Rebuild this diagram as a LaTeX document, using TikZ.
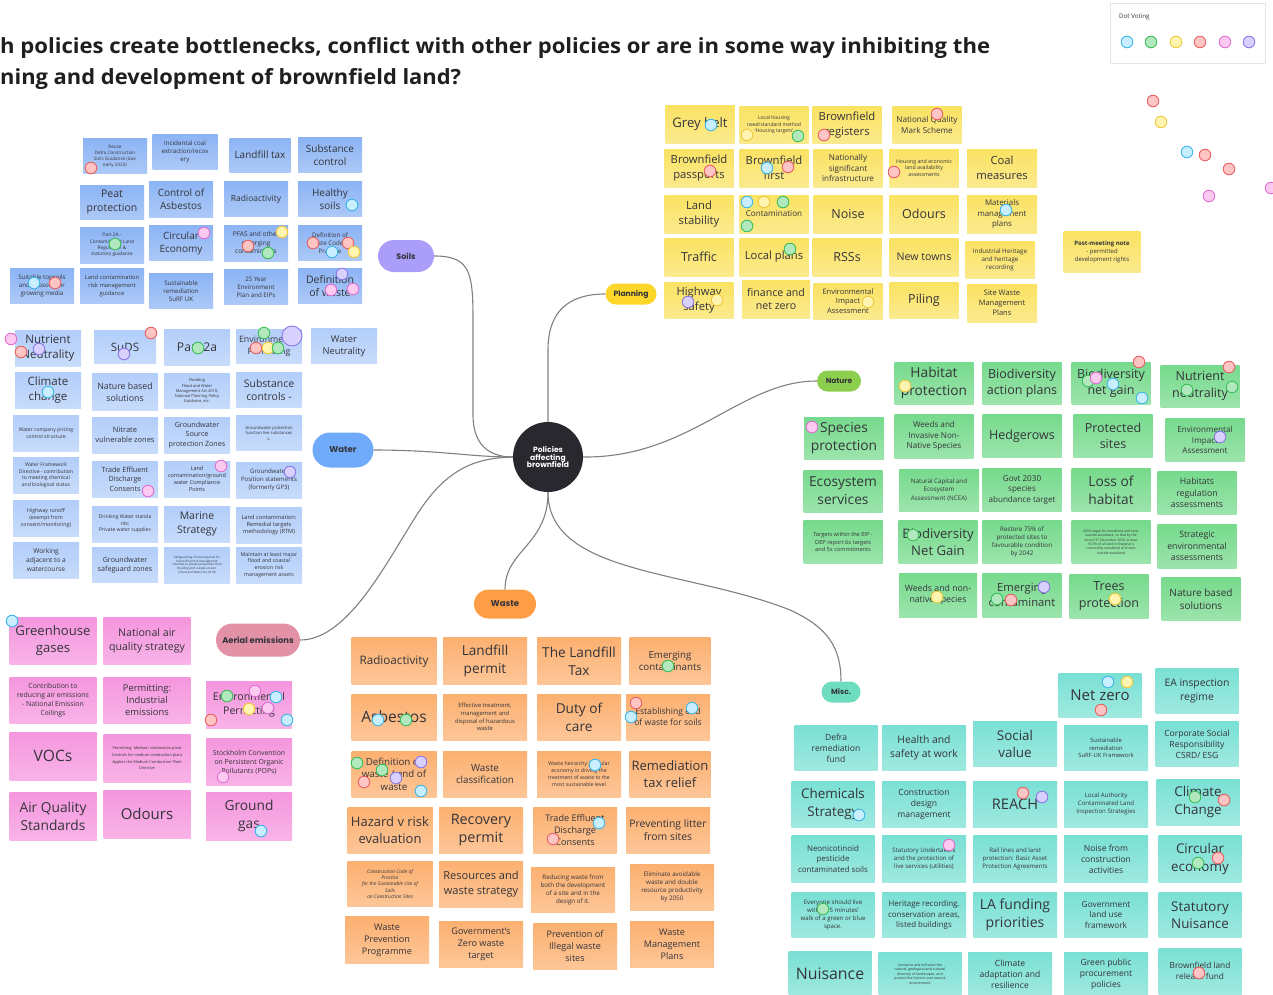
\documentclass[tikz,border=0pt]{standalone}
\usepackage{fontspec}
\usepackage{graphicx}
\setmainfont{Open Sans}
\newfontfamily\popfont{Poppins}
\usetikzlibrary{shadows,shapes.misc}

% sticky-note colours
\definecolor{ink}{RGB}{52,52,58}
\definecolor{sn}{RGB}{140,180,244}
\definecolor{wn}{RGB}{178,206,250}
\definecolor{pn}{RGB}{250,226,98}
\definecolor{gn}{RGB}{118,218,140}
\definecolor{an}{RGB}{245,150,222}
\definecolor{on}{RGB}{252,176,112}
\definecolor{mn}{RGB}{122,224,212}
% topic pill colours
\definecolor{soilc}{RGB}{170,158,250}
\definecolor{planc}{RGB}{252,214,40}
\definecolor{waterc}{RGB}{112,170,250}
\definecolor{wastec}{RGB}{255,157,70}
\definecolor{airc}{RGB}{226,145,166}
\definecolor{natc}{RGB}{140,206,78}
\definecolor{miscc}{RGB}{110,220,190}
\definecolor{hubc}{RGB}{40,40,46}
\definecolor{linkc}{RGB}{128,128,132}
% voting dot colours (d = rim, l = fill)
\definecolor{cd}{RGB}{60,182,232}\definecolor{cl}{RGB}{200,238,255}
\definecolor{gd}{RGB}{58,190,90}\definecolor{gl}{RGB}{178,232,190}
\definecolor{yd}{RGB}{240,200,60}\definecolor{yl}{RGB}{255,244,176}
\definecolor{rd}{RGB}{232,96,96}\definecolor{rl}{RGB}{255,196,196}
\definecolor{pd}{RGB}{222,110,208}\definecolor{pl}{RGB}{252,202,240}
\definecolor{vd}{RGB}{138,120,232}\definecolor{vl}{RGB}{216,208,255}

% font size scaled by the current group factor \fscale
\def\fscale{1}
\newcommand\fs[1]{\pgfmathsetmacro\fsz{#1*\fscale}%
  \fontsize{\fsz}{1.3\dimexpr\fsz pt\relax}\selectfont}

\tikzset{
  note/.style={inner sep=1.5pt, align=center, text=ink,
    drop shadow={shadow xshift=0.4pt, shadow yshift=-0.9pt, opacity=0.16}},
  topic/.style={rounded rectangle, inner sep=0pt, text=ink,
    font=\popfont\bfseries\fs{#1}},
  link/.style={draw=linkc, line width=1.1pt},
  vote/.style={line width=0.9pt, draw=#1d, fill=#1l},
}
% name, x, y, width, height, colour, font size, text
\newcommand\nt[8]{\node[note, minimum width=#4pt, minimum height=#5pt,
  top color=#6, bottom color=#6!72!white, font=\fs{#7}] (#1) at (#2,#3) {#8};}
\newcommand\dt[3]{\draw[vote=#3] (#1,#2) circle[radius=5.8];}

\begin{document}
\begin{tikzpicture}[x=1pt,y=-1pt]
\useasboundingbox (0,0) rectangle (1273,994);
\fill[white] (0,0) rectangle (1273,994);

% heading
\node[anchor=base west, inner sep=0pt, text=black!88, font=\bfseries\fs{20}] (t1) at (0,53)
  {\resizebox{990pt}{16pt}{h policies create bottlenecks, conflict with other policies or are in some way inhibiting the}};
\node[anchor=base west, inner sep=0pt, text=black!88, font=\bfseries\fs{20}] (t2) at (0,84)
  {\resizebox{461pt}{16pt}{ning and development of brownfield land?}};

% voting palette
\node[anchor=north west, draw=black!10, fill=white, minimum width=155pt, minimum height=60pt,
  drop shadow={shadow xshift=0.3pt, shadow yshift=-0.8pt, opacity=0.12}] (dv) at (1110,3) {};
\node[anchor=west, inner sep=0pt, text=ink, font=\fs{6.2}] (dvt) at (1119,17) {Dot Voting};
\dt{1127}{42}{c}\dt{1151}{42}{g}\dt{1176}{42}{y}\dt{1200}{42}{r}\dt{1225}{42}{p}\dt{1249}{42}{v}

% hub and topics
\node[circle, fill=hubc, minimum size=70pt, inner sep=0pt, align=center, text=white,
  font=\popfont\bfseries\fs{7.6}] (hub) at (548,457) {Policies\\[-2pt]affecting\\[-2pt]brownfield};
\node[topic=8, fill=soilc, minimum width=56pt, minimum height=32pt] (soils) at (406,256) {Soils};
\node[topic=7.6, fill=planc, minimum width=51pt, minimum height=21pt] (planning) at (631,294) {Planning};
\node[topic=8.5, fill=waterc, minimum width=61pt, minimum height=35pt] (water) at (343,450) {Water};
\node[topic=8.5, fill=wastec, minimum width=62pt, minimum height=29pt] (waste) at (505,604) {Waste};
\node[topic=8.4, fill=airc, minimum width=84pt, minimum height=33pt] (aerial) at (258,640) {Aerial emissions};
\node[topic=7.4, fill=natc, minimum width=44pt, minimum height=21pt] (nature) at (839,381) {Nature};
\node[topic=7.4, fill=miscc, minimum width=39pt, minimum height=21pt] (misc) at (841,692) {Misc.};

% branches
\draw[link] (soils.east) .. controls (470,256) and (473,272) .. (473,320) -- (473,415)
  .. controls (473,450) and (495,457) .. (hub.west);
\draw[link] (hub.north) -- (548,350) .. controls (548,310) and (570,294) .. (planning.west);
\draw[link] (water.east) .. controls (440,450) and (470,457) .. (hub.west);
\draw[link] (hub.east) .. controls (690,458) and (740,381) .. (nature.west);
\draw[link] (hub.south) .. controls (548,545) and (505,550) .. (waste.north);
\draw[link] (aerial.east) .. controls (350,640) and (390,555) .. (420,510)
  .. controls (450,465) and (480,458) .. (hub.west);
\draw[link] (hub.south) .. controls (548,575) and (690,570) .. (790,610)
  .. controls (830,628) and (841,650) .. (misc.north);

% ---- Soils
\def\fscale{1}
\nt{s1}{115}{156}{64}{35}{sn}{4.6}{Reuse\\Defra Construction\\Soils Guidance (due\\early 2025)}
\nt{s2}{185}{152}{65}{35}{sn}{6.2}{Incidental coal\\extraction/recov\\ery}
\nt{s3}{260}{155}{61}{34}{sn}{10}{Landfill tax}
\nt{s4}{330}{155}{64}{35}{sn}{10}{Substance\\control}
\nt{s5}{112}{202}{64}{34}{sn}{10.5}{Peat\\protection}
\nt{s6}{181}{199}{64}{36}{sn}{10}{Control of\\Asbestos}
\nt{s7}{256}{199}{64}{35}{sn}{8.5}{Radioactivity}
\nt{s8}{330}{199}{64}{35}{sn}{10}{Healthy\\soils}
\nt{s9}{112}{245}{64}{36}{sn}{4.8}{Part 2A -\\Contaminated Land\\Regulation \&\\statutory guidance}
\nt{s10}{181}{243}{64}{35}{sn}{10}{Circular\\Economy}
\nt{s11}{256}{243}{64}{36}{sn}{6.5}{PFAS and other\\emerging\\contaminants}
\nt{s12}{330}{243}{64}{35}{sn}{6.2}{Definition of\\Waste Code of\\Practice}
\nt{s13}{42}{286}{64}{35}{sn}{6.2}{Suitable topsoils\\and subsoils for\\growing media}
\nt{s14}{112}{286}{64}{35}{sn}{5.8}{Land contamination\\risk management\\guidance}
\nt{s15}{181}{291}{64}{35}{sn}{6.2}{Sustainable\\remediation\\SuRF UK}
\nt{s16}{256}{287}{64}{35}{sn}{6.2}{25 Year\\Environment\\Plan and EIPs}
\nt{s17}{330}{286}{64}{35}{sn}{10.5}{Definition\\of waste}
\dt{91}{168}{r}\dt{352}{205}{c}\dt{115}{244}{g}\dt{204}{233}{p}
\dt{282}{232}{y}\dt{248}{246}{r}\dt{268}{253}{g}
\dt{313}{243}{r}\dt{348}{243}{r}\dt{332}{252}{c}\dt{354}{252}{y}
\dt{34}{283}{c}\dt{55}{283}{r}
\dt{342}{274}{v}\dt{331}{290}{p}\dt{353}{289}{p}

% ---- Water
\def\fscale{1.1}
\nt{w1}{48}{348}{66}{36}{wn}{10.5}{Nutrient\\Neutrality}
\nt{w2}{125}{347}{62}{33}{wn}{10.5}{SuDS}
\nt{w3}{197}{347}{66}{36}{wn}{11}{Part 2a}
\nt{w4}{269}{346}{66}{34}{wn}{8}{Environmental\\Permitting}
\nt{w5}{344}{346}{66}{35}{wn}{8.5}{Water\\Neutrality}
\nt{w6}{48}{390}{66}{36}{wn}{10.5}{Climate\\change}
\nt{w7}{125}{392}{66}{37}{wn}{8}{Nature based\\solutions}
\nt{w8}{197}{391}{66}{35}{wn}{3.6}{Flooding\\Flood and Water\\Management Act 2010;\\National Planning Policy\\Guidance, etc.}
\nt{w9}{269}{390}{66}{35}{wn}{9.5}{Substance\\controls -}
\nt{w10}{46}{433}{66}{36}{wn}{4.6}{Water company pricing\\control structure}
\nt{w11}{125}{435}{66}{36}{wn}{6.8}{Nitrate\\vulnerable zones}
\nt{w12}{197}{435}{66}{36}{wn}{6.5}{Groundwater\\Source\\protection Zones}
\nt{w13}{269}{433}{66}{35}{wn}{3.8}{Groundwater protection\\function live substances\\s.}
\nt{w14}{46}{475}{66}{36}{wn}{4.6}{Water Framework\\Directive - contribution\\to meeting chemical\\and biological status}
\nt{w15}{125}{479}{66}{36}{wn}{6.5}{Trade Effluent\\Discharge\\Consents}
\nt{w16}{197}{479}{66}{36}{wn}{5}{Land\\contamination/ground\\water Compliance\\Points}
\nt{w17}{269}{480}{66}{36}{wn}{5.5}{Groundwater\\Position statements\\(formerly GP3)}
\nt{w18}{46}{518}{66}{36}{wn}{4.8}{Highway runoff\\(exempt from\\consent/monitoring)}
\nt{w19}{125}{524}{66}{36}{wn}{4.6}{Drinking Water standa\\rds;\\Private water supplies}
\nt{w20}{197}{524}{66}{36}{wn}{9.5}{Marine\\Strategy}
\nt{w21}{269}{525}{66}{36}{wn}{5.2}{Land contamination:\\Remedial targets\\methodology (RTM)}
\nt{w22}{46}{560}{66}{36}{wn}{6}{Working\\adjacent to a\\watercourse}
\nt{w23}{125}{565}{66}{35}{wn}{6.5}{Groundwater\\safeguard zones}
\nt{w24}{197}{565}{66}{36}{wn}{2.7}{Safeguarding of land required for\\future flood risk management\\schemes to protect properties from\\flooding and coastal erosion\\(Flood and Water Act 2010)}
\nt{w25}{269}{565}{66}{36}{wn}{4.8}{Maintain at least major\\flood and coastal\\erosion risk\\management assets}
\dt{11}{339}{p}\dt{21}{352}{r}\dt{39}{349}{v}
\dt{151}{333}{r}\dt{124}{354}{v}\dt{198}{348}{g}
\dt{264}{333}{g}\dt{256}{348}{r}\dt{268}{348}{y}\dt{278}{348}{g}
\draw[vote=v] (292,336) circle[radius=10];
\dt{48}{392}{c}\dt{148}{491}{p}\dt{221}{466}{p}\dt{290}{472}{v}

% ---- Planning
\def\fscale{1.25}
\nt{p1}{700}{124}{69}{38}{pn}{10.5}{Grey belt}
\nt{p2}{774}{125}{69}{37}{pn}{4}{Local housing\\need/standard method\\‘Housing targets’}
\nt{p3}{847}{125}{69}{37}{pn}{9}{Brownfield\\registers}
\nt{p4}{927}{125}{69}{37}{pn}{6.5}{National Quality\\Mark Scheme}
\nt{p5}{699}{168}{69}{38}{pn}{9}{Brownfield\\passports}
\nt{p6}{774}{168}{69}{38}{pn}{9}{Brownfield\\first}
\nt{p7}{848}{168}{69}{38}{pn}{6.5}{Nationally\\significant\\infrastructure}
\nt{p8}{924}{168}{69}{38}{pn}{4.2}{Housing and economic\\land availability\\assessments}
\nt{p9}{1002}{168}{70}{38}{pn}{9}{Coal\\measures}
\nt{p10}{699}{214}{69}{38}{pn}{9}{Land\\stability}
\nt{p11}{774}{214}{69}{38}{pn}{6.5}{Contamination}
\nt{p12}{848}{214}{69}{38}{pn}{10}{Noise}
\nt{p13}{924}{214}{69}{38}{pn}{10}{Odours}
\nt{p14}{1002}{214}{70}{38}{pn}{6.3}{Materials\\management\\plans}
\nt{p15}{699}{257}{69}{38}{pn}{10}{Traffic}
\nt{p16}{774}{257}{69}{38}{pn}{9}{Local plans}
\nt{p17}{847}{257}{69}{38}{pn}{10}{RSSs}
\nt{p18}{924}{257}{69}{38}{pn}{8.5}{New towns}
\nt{p19}{1000}{260}{69}{37}{pn}{5}{Industrial Heritage\\and heritage\\recording}
\nt{p20}{699}{300}{69}{36}{pn}{9}{Highway\\safety}
\nt{p21}{776}{299}{68}{38}{pn}{8.5}{finance and\\net zero}
\nt{p22}{848}{301}{69}{36}{pn}{6}{Environmental\\Impact\\Assessment}
\nt{p23}{924}{300}{69}{36}{pn}{10}{Piling}
\nt{p24}{1002}{303}{70}{38}{pn}{6}{Site Waste\\Management\\Plans}
\dt{711}{125}{c}\dt{747}{135}{y}\dt{798}{136}{g}\dt{824}{135}{r}\dt{937}{114}{r}
\dt{710}{171}{r}\dt{767}{168}{c}\dt{788}{167}{r}\dt{894}{172}{r}
\dt{747}{202}{c}\dt{764}{202}{y}\dt{783}{202}{g}\dt{747}{226}{g}
\dt{1006}{210}{c}\dt{790}{249}{g}\dt{688}{302}{v}\dt{717}{300}{y}\dt{868}{302}{y}

% post-meeting note and loose dots
\def\fscale{1.2}
\nt{pm}{1102}{252}{77}{41}{pn}{5}{{\bfseries Post-meeting note}\\- permitted\\development rights}
\dt{1153}{101}{r}\dt{1161}{122}{y}\dt{1187}{152}{c}\dt{1205}{155}{r}
\dt{1229}{169}{r}\dt{1209}{196}{p}\dt{1271}{188}{p}

% ---- Nature
\def\fscale{1.25}
\nt{n1}{934}{383}{79}{42}{gn}{11}{Habitat\\protection}
\nt{n2}{1022}{383}{79}{42}{gn}{10}{Biodiversity\\action plans}
\nt{n3}{1111}{383}{79}{42}{gn}{10}{Biodiversity\\net gain}
\nt{n4}{1200}{386}{79}{42}{gn}{10}{Nutrient\\neutrality}
\nt{n5}{844}{438}{80}{42}{gn}{11}{Species\\protection}
\nt{n6}{934}{436}{79}{44}{gn}{6.5}{Weeds and\\Invasive Non-\\Native Species}
\nt{n7}{1022}{436}{79}{43}{gn}{10}{Hedgerows}
\nt{n8}{1113}{436}{79}{43}{gn}{10}{Protected\\sites}
\nt{n9}{1205}{440}{79}{43}{gn}{6.5}{Environmental\\Impact\\Assessment}
\nt{n10}{843}{491}{79}{42}{gn}{11}{Ecosystem\\services}
\nt{n11}{939}{490}{80}{42}{gn}{5}{Natural Capital and\\Ecosystem\\Assessment (NCEA)}
\nt{n12}{1022}{490}{79}{43}{gn}{6.5}{Govt 2030\\species\\abundance target}
\nt{n13}{1111}{490}{79}{43}{gn}{11}{Loss of\\habitat}
\nt{n14}{1197}{493}{79}{43}{gn}{7}{Habitats\\regulation\\assessments}
\nt{n15}{843}{542}{79}{43}{gn}{4.5}{Targets within the EIP -\\OEP report 6x targets\\and 5x commitments}
\nt{n16}{938}{542}{79}{43}{gn}{10.5}{Biodiversity\\Net Gain}
\nt{n17}{1022}{542}{79}{43}{gn}{5}{Restore 75\% of\\protected sites to\\favourable condition\\by 2042}
\nt{n18}{1111}{542}{79}{43}{gn}{2.7}{2050 target for woodland and trees\\outside woodland, so that by the\\end of 31 December 2050 at least\\16.5\% of all land in England is\\covered by woodland and trees\\outside woodland}
\nt{n19}{1197}{546}{79}{44}{gn}{7}{Strategic\\environmental\\assessments}
\nt{n20}{938}{595}{78}{44}{gn}{7}{Weeds and non-\\native species}
\nt{n21}{1022}{595}{79}{44}{gn}{9}{Emerging\\contaminant}
\nt{n22}{1109}{596}{79}{44}{gn}{10}{Trees\\protection}
\nt{n23}{1201}{599}{79}{43}{gn}{8}{Nature based\\solutions}
\dt{905}{386}{y}\dt{1139}{362}{r}\dt{1088}{381}{g}\dt{1096}{378}{p}\dt{1113}{384}{c}\dt{1142}{398}{c}
\dt{1229}{367}{r}\dt{1187}{390}{g}\dt{1232}{387}{g}\dt{812}{427}{p}\dt{1220}{437}{v}
\dt{913}{535}{g}\dt{937}{597}{y}\dt{1044}{587}{v}\dt{997}{599}{g}\dt{1011}{600}{r}\dt{1115}{599}{y}

% ---- Aerial emissions
\def\fscale{1.25}
\nt{a1}{53}{641}{87}{47}{an}{10.5}{Greenhouse\\gases}
\nt{a2}{147}{641}{87}{47}{an}{8.5}{National air\\quality strategy}
\nt{a3}{53}{700}{87}{46}{an}{5.5}{Contribution to\\reducing air emissions\\- National Emission\\Ceilings}
\nt{a4}{147}{700}{87}{46}{an}{7.5}{Permitting:\\Industrial\\emissions}
\nt{a5}{249}{705}{86}{47}{an}{8.5}{Environmental\\Permitting}
\nt{a6}{53}{756}{87}{48}{an}{12.5}{VOCs}
\nt{a7}{147}{758}{87}{48}{an}{3.1}{Permitting: Medium combustion plant\\[2pt]Controls for medium combustion plant\\[2pt]Applies the Medium Combustion Plant\\Directive}
\nt{a8}{249}{762}{86}{47}{an}{5.5}{Stockholm Convention\\on Persistent Organic\\Pollutants (POPs)}
\nt{a9}{53}{816}{87}{48}{an}{11}{Air Quality\\Standards}
\nt{a10}{147}{814}{87}{48}{an}{12}{Odours}
\nt{a11}{249}{816}{86}{48}{an}{11}{Ground\\gas}
\dt{12}{621}{c}\dt{227}{696}{g}\dt{255}{691}{p}\dt{276}{697}{c}\dt{249}{709}{y}
\dt{268}{708}{p}\dt{211}{720}{r}\dt{287}{720}{c}\dt{223}{777}{p}\dt{261}{831}{c}

% ---- Waste
\def\fscale{1.3}
\nt{o1}{394}{661}{85}{47}{on}{9}{Radioactivity}
\nt{o2}{485}{661}{84}{47}{on}{10.5}{Landfill\\permit}
\nt{o3}{579}{661}{84}{47}{on}{10.5}{The Landfill\\Tax}
\nt{o4}{670}{661}{81}{47}{on}{7.5}{Emerging\\contaminants}
\nt{o5}{394}{717}{85}{46}{on}{12}{Asbestos}
\nt{o6}{485}{717}{84}{46}{on}{4.5}{Effective treatment,\\management and\\disposal of hazardous\\waste}
\nt{o7}{579}{717}{84}{46}{on}{10.5}{Duty of\\care}
\nt{o8}{668}{717}{84}{46}{on}{6.6}{Establishing end\\of waste for soils}
\nt{o9}{394}{774}{85}{46}{on}{7.5}{Definition of\\waste / end of\\waste}
\nt{o10}{485}{774}{84}{46}{on}{7.5}{Waste\\classification}
\nt{o11}{579}{774}{84}{46}{on}{4}{Waste heirarchy / circular\\economy in driving the\\treatment of waste to the\\most sustainable level}
\nt{o12}{670}{774}{81}{46}{on}{10}{Remediation\\tax relief}
\nt{o13}{390}{830}{85}{46}{on}{10}{Hazard v risk\\evaluation}
\nt{o14}{481}{830}{84}{46}{on}{11}{Recovery\\permit}
\nt{o15}{575}{830}{84}{46}{on}{7}{Trade Effluent\\Discharge\\Consents}
\nt{o16}{668}{830}{84}{46}{on}{8}{Preventing litter\\from sites}
\nt{o17}{390}{884}{85}{45}{on}{3.8}{\itshape Construction Code of\\\itshape Practice\\\itshape for the Sustainable Use of\\\itshape Soils\\\itshape on Construction Sites}
\nt{o18}{481}{884}{84}{46}{on}{8.5}{Resources and\\waste strategy}
\nt{o19}{573}{890}{84}{45}{on}{4.8}{Reducing waste from\\both the development\\of a site and in the\\design of it.}
\nt{o20}{672}{887}{84}{46}{on}{4.8}{Eliminate avoidable\\waste and double\\resource productivity\\by 2050}
\nt{o21}{387}{940}{84}{47}{on}{7}{Waste\\Prevention\\Programme}
\nt{o22}{481}{944}{84}{46}{on}{7}{Government's\\Zero waste\\target}
\nt{o23}{575}{946}{84}{46}{on}{7}{Prevention of\\Illegal waste\\sites}
\nt{o24}{672}{944}{84}{46}{on}{7}{Waste\\Management\\Plans}
\dt{668}{666}{g}\dt{378}{720}{c}\dt{406}{720}{g}
\dt{636}{703}{r}\dt{692}{708}{c}\dt{631}{717}{c}
\dt{357}{763}{g}\dt{382}{770}{g}\dt{421}{762}{v}\dt{396}{778}{v}\dt{364}{782}{r}\dt{421}{791}{c}
\dt{595}{765}{c}\dt{599}{823}{c}\dt{553}{839}{r}

% ---- Misc.
\def\fscale{1.22}
\nt{m1}{1100}{695}{83}{44}{mn}{12.3}{Net zero}
\nt{m2}{1197}{691}{83}{45}{mn}{8.5}{EA inspection\\regime}
\nt{m3}{836}{748}{83}{45}{mn}{7}{Defra\\remediation\\fund}
\nt{m4}{924}{748}{84}{45}{mn}{8.5}{Health and\\safety at work}
\nt{m5}{1015}{744}{84}{45}{mn}{11}{Social\\value}
\nt{m6}{1106}{748}{84}{45}{mn}{4.8}{Sustainable\\remediation\\SuRF-UK Framework}
\nt{m7}{1197}{744}{83}{45}{mn}{7}{Corporate Social\\Responsibility\\CSRD/ ESG}
\nt{m8}{833}{804}{83}{46}{mn}{11}{Chemicals\\Strategy}
\nt{m9}{924}{804}{84}{46}{mn}{7}{Construction\\design\\management}
\nt{m10}{1015}{804}{84}{46}{mn}{12}{REACH}
\nt{m11}{1106}{804}{84}{46}{mn}{5}{Local Authority\\Contaminated Land\\Inspection Strategies}
\nt{m12}{1198}{802}{83}{46}{mn}{11}{Climate\\Change}
\nt{m13}{833}{859}{83}{47}{mn}{6.5}{Neonicotinoid\\pesticide\\contaminated soils}
\nt{m14}{924}{859}{84}{47}{mn}{5}{Statutory Undertakers\\and the protection of\\live services (utilities)}
\nt{m15}{1015}{859}{84}{47}{mn}{5}{Rail lines and land\\protection: Basic Asset\\Protection Agreements}
\nt{m16}{1106}{859}{84}{47}{mn}{7}{Noise from\\construction\\activities}
\nt{m17}{1200}{859}{83}{47}{mn}{11}{Circular\\economy}
\nt{m18}{833}{915}{83}{45}{mn}{5}{Everyone should live\\within 15 minutes'\\walk of a green or blue\\space.}
\nt{m19}{924}{915}{84}{45}{mn}{6.5}{Heritage recording,\\conservation areas,\\listed buildings}
\nt{m20}{1015}{915}{84}{45}{mn}{11.5}{LA funding\\priorities}
\nt{m21}{1106}{915}{84}{45}{mn}{6.8}{Government\\land use\\framework}
\nt{m22}{1200}{915}{83}{45}{mn}{11}{Statutory\\Nuisance}
\nt{m23}{830}{974}{83}{46}{mn}{13}{Nuisance}
\nt{m24}{920}{974}{83}{44}{mn}{2.9}{Conserve and enhance the\\natural, geological and cultural\\diversity of landscapes, and\\protect the historic and natural\\environment}
\nt{m25}{1010}{974}{84}{44}{mn}{7}{Climate\\adaptation and\\resilience}
\nt{m26}{1106}{974}{84}{44}{mn}{7}{Green public\\procurement\\policies}
\nt{m27}{1200}{971}{83}{46}{mn}{6.8}{Brownfield land\\release fund}
\dt{1108}{682}{c}\dt{1127}{682}{y}\dt{1101}{710}{r}\dt{859}{815}{c}
\dt{1023}{793}{r}\dt{1042}{797}{v}\dt{1195}{797}{g}\dt{1224}{800}{r}
\dt{949}{845}{p}\dt{1198}{863}{g}\dt{1218}{858}{r}\dt{823}{909}{g}\dt{1199}{973}{r}
\end{tikzpicture}
\end{document}
